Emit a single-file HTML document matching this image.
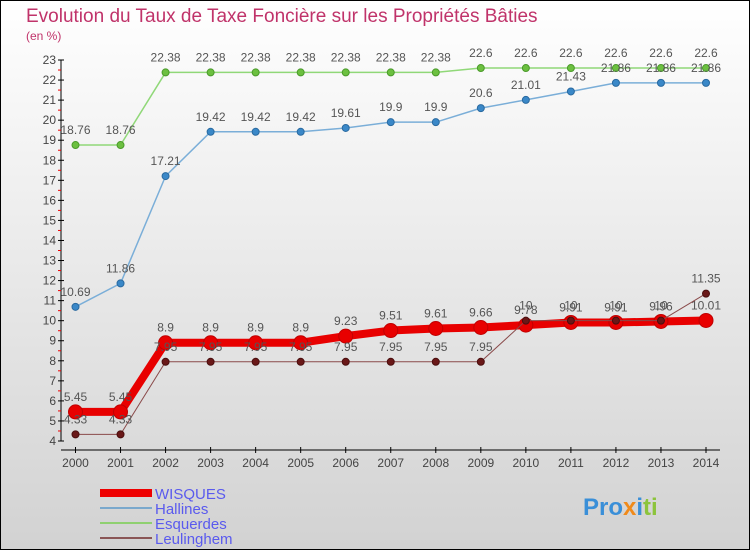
<!DOCTYPE html>
<html><head><meta charset="utf-8"><style>
body{margin:0}
svg{display:block;font-family:"Liberation Sans",sans-serif}
</style></head><body>
<svg id="c" width="750" height="550" xmlns="http://www.w3.org/2000/svg">
<defs><linearGradient id="bg" x1="0" y1="0" x2="0" y2="1"><stop offset="0" stop-color="#ffffff"/><stop offset="1" stop-color="#d2d2d2"/></linearGradient></defs>
<rect x="0.5" y="0.5" width="749" height="549" fill="url(#bg)" stroke="#000"/>
<text x="26" y="22" font-size="19" fill="#c0336a">Evolution du Taux de Taxe Foncière sur les Propriétés Bâties</text>
<text x="26" y="40" font-size="12" fill="#c0336a">(en %)</text>
<g id="axes"></g><g id="series"></g>
<g>
<rect x="100" y="489" width="52" height="8" fill="#e00"/>
<text x="155" y="499" font-size="15" fill="#5a5aee">WISQUES</text>
<rect x="100" y="507" width="52" height="2" fill="#7aa8cc"/>
<text x="155" y="514" font-size="15" fill="#5a5aee">Hallines</text>
<rect x="100" y="522" width="52" height="2" fill="#8fd070"/>
<text x="155" y="529" font-size="15" fill="#5a5aee">Esquerdes</text>
<rect x="100" y="537" width="52" height="2" fill="#8a5555"/>
<text x="155" y="544" font-size="15" fill="#5a5aee">Leulinghem</text>
</g>
<g font-size="24" font-weight="bold">
<text x="583" y="515"><tspan fill="#3a8fd8">Pro</tspan><tspan fill="#f08a1a">x</tspan><tspan fill="#3a8fd8">i</tspan><tspan fill="#8cc43c">ti</tspan></text>
</g>
</svg>
<script>
const years=[2000,2001,2002,2003,2004,2005,2006,2007,2008,2009,2010,2011,2012,2013,2014];
const yTicks=[4,5,6,7,8,9,10,11,12,13,14,15,16,17,18,19,20,21,22,23];
const wisques=[5.45,5.45,8.9,8.9,8.9,8.9,9.23,9.51,9.61,9.66,9.78,9.91,9.91,9.96,10.01];
const hallines=[10.69,11.86,17.21,19.42,19.42,19.42,19.61,19.9,19.9,20.6,21.01,21.43,21.86,21.86,21.86];
const esquerdes=[18.76,18.76,22.38,22.38,22.38,22.38,22.38,22.38,22.38,22.6,22.6,22.6,22.6,22.6,22.6];
const leulinghem=[4.33,4.33,7.95,7.95,7.95,7.95,7.95,7.95,7.95,7.95,10,10,10,10,11.35];
const NS='http://www.w3.org/2000/svg';
const X=i=>75.5+i*(706-75.5)/(years.length-1);
const Y=v=>441-(v-4)*(381/19);
function mk(t,a,p){const e=document.createElementNS(NS,t);for(const k in a)e.setAttribute(k,a[k]);p.appendChild(e);return e;}
const ax=document.getElementById('axes');
let l=mk('line',{x1:61,y1:Y(23),x2:61,y2:441,stroke:'#000'},ax);


l=mk('line',{x1:61,y1:450,x2:720,y2:450,stroke:'#000'},ax);


yTicks.forEach(v=>{
 mk('line',{x1:58,x2:64,y1:Y(v),y2:Y(v),stroke:'#000'},ax);
 if(v<23)mk('line',{x1:58,x2:61,y1:Y(v+0.5),y2:Y(v+0.5),stroke:'#e00'},ax);
 const t=mk('text',{x:56,y:Y(v)+4,'font-size':12,'text-anchor':'end',fill:'#444'},ax);
 t.textContent=v;
 
 
});
years.forEach((y,i)=>{
 mk('line',{x1:X(i),x2:X(i),y1:447,y2:453,stroke:'#000'},ax);
 const t=mk('text',{x:X(i),y:467,'font-size':12,'text-anchor':'middle',fill:'#444'},ax);
 t.textContent=y;
 
 
});
const sg=document.getElementById('series');
function draw(vals,name,color,w,r,fill,stroke){
 const g=mk('g',{},sg);
 
 
 const p=mk('polyline',{points:vals.map((v,i)=>X(i)+','+Y(v)).join(' '),fill:'none',stroke:color,'stroke-width':w,'stroke-linejoin':'round'},g);
 
 
 vals.forEach((v,i)=>{
  const c=mk('circle',{cx:X(i),cy:Y(v),r:r,fill:fill,stroke:stroke,'stroke-width':1},g);
  
  
  const t=mk('text',{x:X(i),y:Y(v)-11,'font-size':12,'text-anchor':'middle',fill:'#555'},g);
  t.textContent=String(v);
  
  
 });
}
draw(esquerdes,'esquerdes','#90d878',1.5,3.5,'#6cc040','#4a9a2a');
draw(hallines,'hallines','#7aaed8',1.5,3.5,'#3a88c8','#2a6aa0');
draw(wisques,'wisques','#e80000',8,7,'#e80000','#c00000');
draw(leulinghem,'leulinghem','#8a4a4a',1,3.5,'#6a1818','#4a0e0e');
</script>
</body></html>
